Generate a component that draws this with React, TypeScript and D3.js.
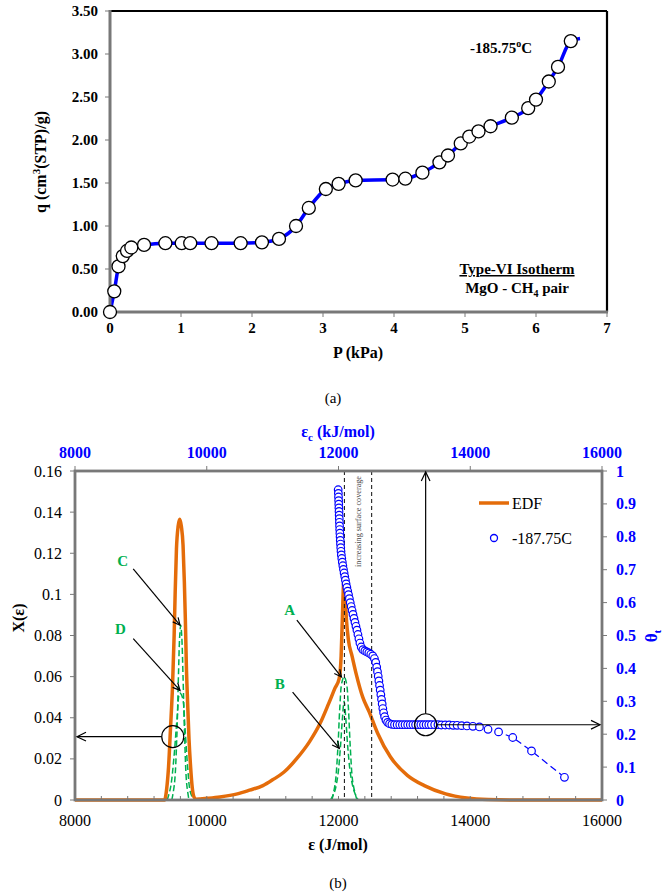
import React from "react";
import * as d3 from "d3";

// ---------- (a) isotherm ----------
const pressure = [0, 0.06, 0.12, 0.18, 0.24, 0.3, 0.48, 0.78, 1.01, 1.13, 1.43, 1.84, 2.14, 2.38, 2.62, 2.8, 3.04, 3.22, 3.46, 3.98, 4.16, 4.4, 4.64, 4.76, 4.94, 5.06, 5.19, 5.36, 5.66, 5.89, 6.0, 6.18, 6.31, 6.49];
const uptake = [0, 0.24, 0.53, 0.65, 0.71, 0.75, 0.78, 0.8, 0.8, 0.8, 0.8, 0.8, 0.81, 0.85, 1.0, 1.21, 1.43, 1.49, 1.53, 1.54, 1.55, 1.62, 1.74, 1.82, 1.96, 2.04, 2.1, 2.16, 2.26, 2.37, 2.47, 2.68, 2.85, 3.15];
const lineTailP = [6.62];
const lineTailQ = [3.18];
const pTicks = [0, 1, 2, 3, 4, 5, 6, 7];
const qTicks = [0, 0.5, 1, 1.5, 2, 2.5, 3, 3.5];

// ---------- (b) energy distribution ----------
const edfEps = [8000, 9360, 9390, 9420, 9450, 9480, 9505, 9520, 9540, 9565, 9590, 9615, 9640, 9660, 9675, 9690, 9710, 9730, 9755, 9780, 9806, 9840, 9900, 10000, 10200, 10465, 10650, 10852, 11000, 11174, 11368, 11561, 11723, 11852, 11948, 12010, 12040, 12060, 12080, 12100, 12120, 12150, 12206, 12271, 12368, 12464, 12594, 12787, 13045, 13303, 13626, 13948, 14271, 14600, 16000];
const edfX = [0, 0, 0.005, 0.016, 0.035, 0.055, 0.08, 0.1, 0.122, 0.133, 0.1365, 0.133, 0.124, 0.106, 0.088, 0.066, 0.047, 0.03, 0.016, 0.006, 0.0015, 0.0004, 0.0005, 0.0008, 0.0015, 0.003, 0.0048, 0.007, 0.0098, 0.0136, 0.0202, 0.0284, 0.0374, 0.047, 0.0545, 0.059, 0.07, 0.09, 0.106, 0.1, 0.088, 0.078, 0.07, 0.061, 0.05, 0.043, 0.0325, 0.021, 0.012, 0.007, 0.003, 0.001, 0.0002, 0, 0];

const peakCEps = [9470, 9510, 9545, 9570, 9590, 9605, 9620, 9640, 9665, 9695, 9730];
const peakCX = [0, 0.008, 0.03, 0.06, 0.08, 0.085, 0.08, 0.06, 0.03, 0.008, 0];
const peakDEps = [9400, 9450, 9500, 9550, 9590, 9630, 9670, 9710, 9750, 9800];
const peakDX = [0, 0.006, 0.02, 0.04, 0.052, 0.05, 0.035, 0.016, 0.004, 0];
const peakAEps = [11900, 11950, 11990, 12020, 12050, 12085, 12120, 12150, 12180, 12220, 12280];
const peakAX = [0, 0.008, 0.025, 0.045, 0.057, 0.06, 0.057, 0.045, 0.025, 0.008, 0];
const peakBEps = [11880, 11940, 11990, 12030, 12060, 12085, 12110, 12140, 12185, 12240, 12300];
const peakBX = [0, 0.004, 0.012, 0.026, 0.04, 0.048, 0.04, 0.026, 0.012, 0.004, 0];
const greenBaseEps = [9400, 14000];

const thetaEps = [11995, 11998, 12000, 12002, 12004, 12006, 12008, 12010, 12012, 12014, 12016, 12018, 12021, 12024, 12027, 12030, 12034, 12038, 12043, 12050, 12058, 12066, 12075, 12085, 12095, 12105, 12115, 12127, 12140, 12152, 12165, 12178, 12192, 12206, 12220, 12235, 12250, 12265, 12280, 12295, 12310, 12325, 12345, 12370, 12400, 12430, 12460, 12490, 12520, 12545, 12565, 12580, 12592, 12603, 12613, 12623, 12633, 12643, 12653, 12663, 12673, 12685, 12700, 12720, 12745, 12775, 12810, 12850, 12890, 12930, 12970, 13010, 13050, 13090, 13130, 13170, 13210, 13250, 13290, 13330, 13370, 13410, 13460, 13510, 13560, 13620, 13680, 13740, 13800, 13870, 13950, 14040, 14140, 14270, 14430, 14645, 14930, 15430];
const thetaVal = [0.943, 0.932, 0.921, 0.91, 0.899, 0.888, 0.877, 0.866, 0.855, 0.844, 0.833, 0.822, 0.811, 0.8, 0.789, 0.778, 0.767, 0.756, 0.745, 0.734, 0.723, 0.712, 0.701, 0.69, 0.679, 0.668, 0.657, 0.646, 0.635, 0.624, 0.612, 0.6, 0.588, 0.576, 0.564, 0.552, 0.54, 0.528, 0.516, 0.503, 0.49, 0.477, 0.465, 0.457, 0.453, 0.45, 0.447, 0.443, 0.438, 0.43, 0.418, 0.404, 0.39, 0.376, 0.362, 0.348, 0.334, 0.32, 0.306, 0.292, 0.278, 0.265, 0.253, 0.243, 0.236, 0.232, 0.23, 0.229, 0.229, 0.229, 0.229, 0.229, 0.229, 0.229, 0.229, 0.229, 0.229, 0.229, 0.229, 0.229, 0.229, 0.229, 0.229, 0.229, 0.228, 0.228, 0.228, 0.227, 0.227, 0.226, 0.225, 0.224, 0.222, 0.215, 0.207, 0.19, 0.149, 0.069];

const epsTicks = [8000, 10000, 12000, 14000, 16000];
const epsMinor = d3.range(8000, 16001, 400);
const xTicks = [0, 0.02, 0.04, 0.06, 0.08, 0.1, 0.12, 0.14, 0.16];
const xTickLabels = ["0", "0.02", "0.04", "0.06", "0.08", "0.1", "0.12", "0.14", "0.16"];
const thetaTicks = [0, 0.1, 0.2, 0.3, 0.4, 0.5, 0.6, 0.7, 0.8, 0.9, 1];
const dashedEps = [12090, 12503];

// annotations: label, label position, arrow start, arrow tip
const labels = [
  { t: "C", lx: 8723, ly: 0.1164, x1: 8884, y1: 0.1124, x2: 9594, y2: 0.085 },
  { t: "D", lx: 8690, ly: 0.0834, x1: 8884, y1: 0.0785, x2: 9594, y2: 0.0533 },
  { t: "A", lx: 11258, ly: 0.0924, x1: 11368, y1: 0.0875, x2: 12045, y2: 0.0598 },
  { t: "B", lx: 11110, ly: 0.0563, x1: 11303, y1: 0.0525, x2: 12013, y2: 0.0251 },
];
const leftCircle = { eps: 9484, x: 0.0308 };
const rightCircle = { eps: 13323, x: 0.0366 };

const serif = '"Liberation Serif", "DejaVu Serif", serif';
const gray = "#787878";
const orange = "#E46C0A";
const green = "#00B050";
const blue = "#0000FF";

function arrowHead(x: number, y: number, angle: number, size = 9) {
  const a1 = angle + Math.PI - 0.45;
  const a2 = angle + Math.PI + 0.45;
  return `M${x + size * Math.cos(a1)},${y + size * Math.sin(a1)} L${x},${y} L${x + size * Math.cos(a2)},${y + size * Math.sin(a2)}`;
}

function Arrow({ x1, y1, x2, y2, size = 9 }: any) {
  const ang = Math.atan2(y2 - y1, x2 - x1);
  return (
    <g stroke="#000" strokeWidth={1.2} fill="none">
      <line x1={x1} y1={y1} x2={x2} y2={y2} />
      <path d={arrowHead(x2, y2, ang, size)} />
    </g>
  );
}

export default function App() {
  // (a) scales
  const xa = d3.scaleLinear().domain([0, 7]).range([110, 607]);
  const ya = d3.scaleLinear().domain([0, 3.5]).range([312, 11]);
  const isoPts = pressure.map((p, i) => [p, uptake[i]] as [number, number]);
  const linePts = isoPts.concat(lineTailP.map((p, i) => [p, lineTailQ[i]] as [number, number]));
  const isoLine = d3.line<[number, number]>().x((d) => xa(d[0])).y((d) => ya(d[1])).curve(d3.curveMonotoneX)(linePts) || "";

  // (b) scales
  const xe = d3.scaleLinear().domain([8000, 16000]).range([75, 602]);
  const yX = d3.scaleLinear().domain([0, 0.16]).range([800, 471]);
  const yT = d3.scaleLinear().domain([0, 1]).range([800, 471]);
  const lineB = d3.line<[number, number]>().x((d) => xe(d[0])).y((d) => yX(d[1]));
  const zipB = (a: number[], b: number[]) => a.map((v, i) => [v, b[i]] as [number, number]);
  const thetaLine = d3.line<[number, number]>().x((d) => xe(d[0])).y((d) => yT(d[1]))(zipB(thetaEps, thetaVal)) || "";

  const lc = { x: xe(leftCircle.eps), y: yX(leftCircle.x) };
  const rc = { x: xe(rightCircle.eps), y: yX(rightCircle.x) };
  const cr = 11;

  return (
    <div style={{ position: "absolute", left: 0, top: 0 }}>
      <svg width={666} height={894} style={{ display: "block", background: "#fff", fontFamily: serif }}>
        <style>{`text { font-family: ${serif}; }`}</style>
        {/* ===== (a) ===== */}
        <g>
          {isoLine && <path d={isoLine} fill="none" stroke={blue} strokeWidth={3.5} />}
          {/* frame */}
          <line x1={110} y1={11} x2={607} y2={11} stroke="#000" strokeWidth={2.2} />
          <line x1={607} y1={11} x2={607} y2={312} stroke="#000" strokeWidth={2.2} />
          <line x1={110} y1={10} x2={110} y2={313} stroke={gray} strokeWidth={3} />
          <line x1={109} y1={312} x2={608} y2={312} stroke={gray} strokeWidth={3} />
          {pTicks.map((t) => (
            <g key={"pt" + t}>
              <line x1={xa(t)} x2={xa(t)} y1={312} y2={317} stroke={gray} strokeWidth={1} />
              <text x={xa(t)} y={333} textAnchor="middle" fontSize={15} fontWeight="bold">{t}</text>
            </g>
          ))}
          {qTicks.map((t) => (
            <g key={"qt" + t}>
              <line x1={105} x2={110} y1={ya(t)} y2={ya(t)} stroke={gray} strokeWidth={1} />
              <text x={98} y={ya(t) + 5} textAnchor="end" fontSize={15} fontWeight="bold">{t.toFixed(2)}</text>
            </g>
          ))}
          {isoPts.map((d, i) => (
            <circle key={"iso" + i} cx={xa(d[0])} cy={ya(d[1])} r={6.5} fill="#fff" stroke="#000" strokeWidth={1.3} />
          ))}
          <text x={470} y={53} fontSize={15} fontWeight="bold">
            -185.75<tspan fontSize={10} dy={-6}>o</tspan><tspan dy={6}>C</tspan>
          </text>
          <text x={517} y={274} textAnchor="middle" fontSize={15} fontWeight="bold" textDecoration="underline">Type-VI Isotherm</text>
          <text x={517} y={293} textAnchor="middle" fontSize={15} fontWeight="bold">
            MgO - CH<tspan fontSize={10} dy={4}>4</tspan><tspan dy={-4}> pair</tspan>
          </text>
          <text x={358} y={358} textAnchor="middle" fontSize={16} fontWeight="bold">P (kPa)</text>
          <text transform="translate(46,162) rotate(-90)" textAnchor="middle" fontSize={16} fontWeight="bold">
            q (cm<tspan fontSize={11} dy={-6}>3</tspan><tspan dy={6}>(STP)/g)</tspan>
          </text>
          <text x={333} y={403} textAnchor="middle" fontSize={15}>(a)</text>
        </g>

        {/* ===== (b) ===== */}
        <g>
          {/* green components */}
          <line x1={xe(greenBaseEps[0])} x2={xe(greenBaseEps[1])} y1={yX(0)} y2={yX(0)} stroke={green} strokeWidth={2} />
          {[zipB(peakCEps, peakCX), zipB(peakDEps, peakDX), zipB(peakAEps, peakAX), zipB(peakBEps, peakBX)].map((pts, i) => (
            <path key={"g" + i} d={lineB.curve(d3.curveCatmullRom)(pts) || ""} fill="none" stroke={green} strokeWidth={1.5} strokeDasharray="6,3" />
          ))}
          {/* EDF */}
          <path d={lineB.curve(d3.curveMonotoneX)(zipB(edfEps, edfX)) || ""} fill="none" stroke={orange} strokeWidth={3.5} strokeLinejoin="round" />
          {/* dashed verticals */}
          {dashedEps.map((e) => (
            <line key={"dv" + e} x1={xe(e)} x2={xe(e)} y1={471} y2={800} stroke="#222" strokeWidth={1.1} strokeDasharray="4,3" />
          ))}
          <text transform={`translate(${(xe(dashedEps[0]) + xe(dashedEps[1])) / 2 + 3},${476}) rotate(-90)`} textAnchor="end" fontSize={8.2} fill="#444">increasing surface coverage</text>
          {/* theta */}
          <path d={thetaLine} fill="none" stroke={blue} strokeWidth={1.2} strokeDasharray="7,4" />
          {thetaEps.map((e, i) => (
            <circle key={"th" + i} cx={xe(e)} cy={yT(thetaVal[i])} r={3.8} fill="#fff" stroke={blue} strokeWidth={1.2} />
          ))}
          {/* frame */}
          <rect x={75} y={471} width={527} height={329} fill="none" stroke={gray} strokeWidth={2.8} />
          {epsMinor.map((t) => (
            <line key={"mi" + t} x1={xe(t)} x2={xe(t)} y1={800} y2={796} stroke={gray} strokeWidth={1} />
          ))}
          {epsTicks.map((t) => (
            <g key={"et" + t}>
              <line x1={xe(t)} x2={xe(t)} y1={471} y2={466} stroke={gray} strokeWidth={1} />
              <text x={xe(t)} y={826} textAnchor="middle" fontSize={16}>{t}</text>
              <text x={xe(t)} y={458} textAnchor="middle" fontSize={16} fontWeight="bold" fill={blue}>{t}</text>
            </g>
          ))}
          {xTicks.map((t, i) => (
            <g key={"xt" + t}>
              <line x1={70} x2={75} y1={yX(t)} y2={yX(t)} stroke={gray} strokeWidth={1} />
              <text x={62} y={yX(t) + 5.5} textAnchor="end" fontSize={16}>{xTickLabels[i]}</text>
            </g>
          ))}
          {thetaTicks.map((t) => (
            <g key={"tt" + t}>
              <line x1={602} x2={607} y1={yT(t)} y2={yT(t)} stroke={gray} strokeWidth={1} />
              <text x={616} y={yT(t) + 5.5} fontSize={16} fontWeight="bold" fill={blue}>{t}</text>
            </g>
          ))}
          {/* annotations */}
          {labels.map((l) => (
            <g key={"lab" + l.t}>
              <text x={xe(l.lx)} y={yX(l.ly) + 5} textAnchor="middle" fontSize={15} fontWeight="bold" fill={green}>{l.t}</text>
              <Arrow x1={xe(l.x1)} y1={yX(l.y1)} x2={xe(l.x2)} y2={yX(l.y2)} size={8} />
            </g>
          ))}
          <circle cx={lc.x} cy={lc.y} r={cr} fill="none" stroke="#000" strokeWidth={1.2} />
          <Arrow x1={lc.x - cr} y1={lc.y} x2={77} y2={lc.y} size={10} />
          <circle cx={rc.x} cy={rc.y} r={cr} fill="none" stroke="#000" strokeWidth={1.2} />
          <Arrow x1={rc.x + cr} y1={rc.y} x2={600} y2={rc.y} size={10} />
          <Arrow x1={rc.x} y1={rc.y - cr} x2={rc.x} y2={472} size={10} />
          {/* legend */}
          <line x1={479} x2={509} y1={503} y2={503} stroke={orange} strokeWidth={3.5} />
          <text x={512} y={508.5} fontSize={16}>EDF</text>
          <circle cx={494} cy={538} r={3.5} fill="#fff" stroke={blue} strokeWidth={1.3} />
          <text x={512} y={543.5} fontSize={16}>-187.75C</text>
          {/* titles */}
          <text x={338} y={437} textAnchor="middle" fontSize={16} fontWeight="bold" fill={blue}>
            ε<tspan fontSize={11} dy={4}>c</tspan><tspan dy={-4}> (kJ/mol)</tspan>
          </text>
          <text x={338} y={850} textAnchor="middle" fontSize={16} fontWeight="bold">ε (J/mol)</text>
          <text x={338} y={888} textAnchor="middle" fontSize={15}>(b)</text>
          <text transform="translate(24,618) rotate(-90)" textAnchor="middle" fontSize={16} fontWeight="bold">X(ε)</text>
          <text transform="translate(657,636) rotate(-90)" textAnchor="middle" fontSize={17} fontWeight="bold" fill={blue}>
            θ<tspan fontSize={11} dy={4}>t</tspan>
          </text>
        </g>
      </svg>
    </div>
  );
}
